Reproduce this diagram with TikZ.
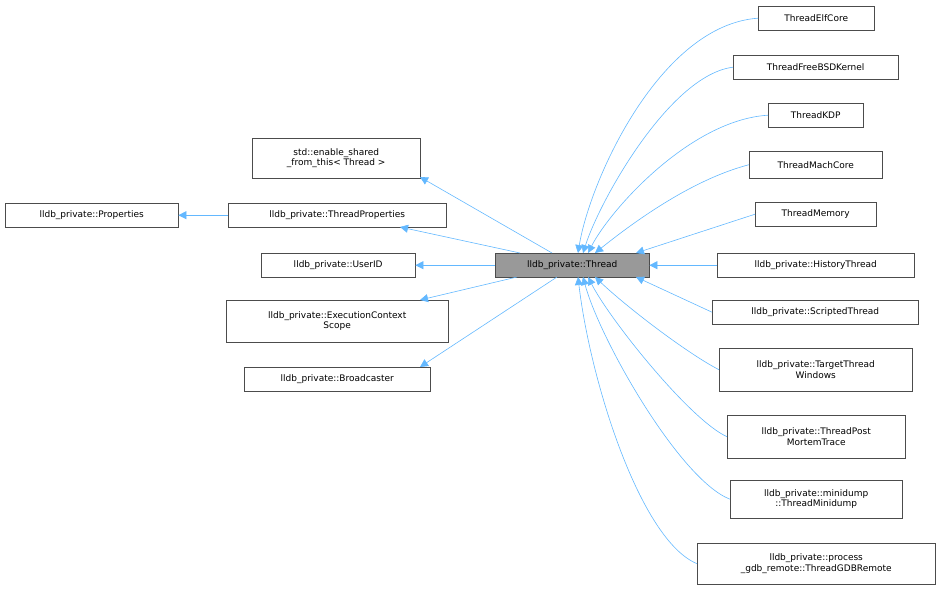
\documentclass[tikz,border=0pt]{standalone}
\usepackage{fontspec}
\setmainfont{DejaVu Sans}
\usetikzlibrary{arrows.meta}
\begin{document}
\begin{tikzpicture}[x=1pt,y=-1pt,
 cls/.style={draw=black!70,fill=white,font=\fontsize{9}{10.5}\selectfont,align=center,inner sep=0pt,anchor=north west},
 inh/.style={draw=blue!30!cyan!60!white,color={rgb,255:red,99;green,184;blue,255},line width=0.6pt,-{Triangle[length=8pt,width=8pt]}}]
\useasboundingbox (0,0) rectangle (941,589);
\newcommand{\bx}[6]{\node[cls,minimum width=#4-#2,minimum height=#5-#3] (#1) at (#2,#3) {#6};}
\bx{th}{495}{253}{649}{277}{lldb\_private::Thread}
\node[draw=black!70,fill={rgb,255:red,153;green,153;blue,153},minimum width=154pt,minimum height=24pt,inner sep=0pt,anchor=north west,font=\fontsize{9}{10.5}\selectfont] at (495,253) {lldb\_private::Thread};
\bx{a}{758}{6}{874}{30}{ThreadElfCore}
\bx{b}{733}{55}{898}{79}{ThreadFreeBSDKernel}
\bx{c}{768}{103}{863}{127}{ThreadKDP}
\bx{d}{749}{151}{882}{178}{ThreadMachCore}
\bx{e}{755}{202}{876}{226}{ThreadMemory}
\bx{f}{717}{253}{914}{277}{lldb\_private::HistoryThread}
\bx{g}{712}{300}{918}{324}{lldb\_private::ScriptedThread}
\bx{h}{719}{348}{912}{391}{lldb\_private::TargetThread\\Windows}
\bx{i}{727}{415}{905}{458}{lldb\_private::ThreadPost\\MortemTrace}
\bx{j}{730}{480}{902}{518}{lldb\_private::minidump\\::ThreadMinidump}
\bx{k}{697}{543}{935}{584}{lldb\_private::process\\\_gdb\_remote::ThreadGDBRemote}
\bx{s}{252}{138}{420}{178}{std::enable\_shared\\\_from\_this< Thread >}
\bx{tp}{228}{203}{446}{227}{lldb\_private::ThreadProperties}
\bx{p}{5}{203}{178}{227}{lldb\_private::Properties}
\bx{u}{261}{253}{415}{277}{lldb\_private::UserID}
\bx{ec}{226}{300}{448}{342}{lldb\_private::ExecutionContext\\Scope}
\bx{br}{244}{367}{430}{391}{lldb\_private::Broadcaster}
\coordinate (th0) at (495,265);
\draw[inh] (tp.west) -- (p.east);
\draw[inh] (552,253) -- (420,177);
\draw[inh] (520,253) -- (400,227);
\draw[inh] (th.west) -- (u.east);
\draw[inh] (517,277) -- (420,300);
\draw[inh] (557,277) -- (420,367);
\draw[inh] (a.west) .. controls (660,25) and (590,180) .. (578,253);
\draw[inh] (b.west) .. controls (670,75) and (600,200) .. (583,253);
\draw[inh] (c.west) .. controls (690,120) and (610,210) .. (588,253);
\draw[inh] (d.west) .. controls (690,180) and (630,225) .. (595,253);
\draw[inh] (e.west) -- (636,253);
\draw[inh] (f.west) -- (th.east);
\draw[inh] (g.west) -- (636,277);
\draw[inh] (h.west) .. controls (690,355) and (630,310) .. (595,277);
\draw[inh] (i.west) .. controls (690,420) and (610,320) .. (588,277);
\draw[inh] (j.west) .. controls (680,480) and (600,340) .. (583,277);
\draw[inh] (k.west) .. controls (640,540) and (590,380) .. (578,277);
\end{tikzpicture}
\end{document}
